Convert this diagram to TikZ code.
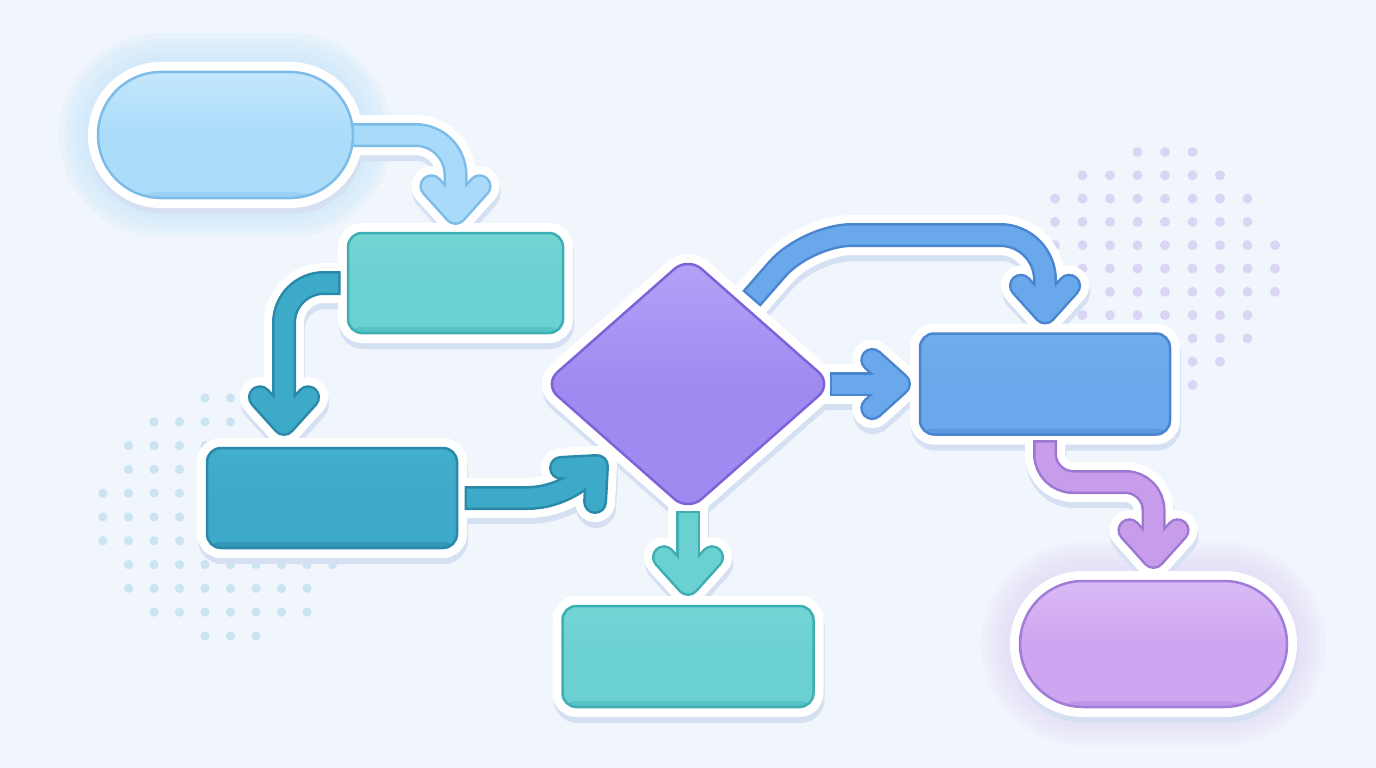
\documentclass[tikz,border=0pt]{standalone}
\usetikzlibrary{calc,shapes.geometric}
\definecolor{bg}{HTML}{F1F6FC}
\definecolor{shadowc}{HTML}{D5E1F2}
\definecolor{p1f}{HTML}{ABDCFA}
\definecolor{p1b}{HTML}{7DBBE8}
\definecolor{p1h}{HTML}{C4E7FC}
\definecolor{p1l}{HTML}{9AD0F5}
\definecolor{gl1}{HTML}{C8E6FB}
\definecolor{tlf}{HTML}{6BD0D1}
\definecolor{tlb}{HTML}{3DAEB2}
\definecolor{tlh}{HTML}{74D5D5}
\definecolor{tll}{HTML}{58C3C6}
\definecolor{tdf}{HTML}{3CAAC8}
\definecolor{tdb}{HTML}{2A88A8}
\definecolor{tdh}{HTML}{42AFCC}
\definecolor{tdl}{HTML}{3398B8}
\definecolor{df}{HTML}{A08AF2}
\definecolor{db}{HTML}{7C63D8}
\definecolor{dh}{HTML}{B4A2F6}
\definecolor{bf}{HTML}{69A8EA}
\definecolor{bb}{HTML}{4A86D0}
\definecolor{bh}{HTML}{70ADEC}
\definecolor{bl}{HTML}{5B99DF}
\definecolor{p2f}{HTML}{CEA5F0}
\definecolor{p2b}{HTML}{A17CD8}
\definecolor{p2h}{HTML}{DBBAF6}
\definecolor{p2l}{HTML}{BF96E7}
\definecolor{gl2}{HTML}{E4D8F8}
\definecolor{a1f}{HTML}{A9DAF9}
\definecolor{a1b}{HTML}{7CBCE8}
\definecolor{a7f}{HTML}{C79CEB}
\definecolor{a7b}{HTML}{9C78D2}
\definecolor{dotl}{HTML}{CAE4F2}
\definecolor{dotr}{HTML}{DAD5F4}

\pgfdeclarelayer{back}
\pgfdeclarelayer{shadow}
\pgfdeclarelayer{ring}
\pgfdeclarelayer{arrows}
\pgfsetlayers{back,shadow,ring,arrows,main}

\tikzset{
  nd/.style={inner sep=0pt, outer sep=0pt, line width=2.5pt},
  pp/.style n args={3}{path picture={
      \shade[top color=#1, bottom color=#2, middle color=#2] (path picture bounding box.north west) rectangle (path picture bounding box.south east);
      \fill[#3] ([yshift=6pt]path picture bounding box.south west) rectangle (path picture bounding box.south east);}},
  chevline/.style={line cap=round, line join=round},
}

% chevron centre line, tip centre at the origin, pointing along +x
\newcommand\chev{(-26.8,24.1) -- (0,0) -- (-26.8,-24.1)}

% #1 shaft path (ends at tip centre), #2 tip centre, #3 angle, #4 fill, #5 border, #6 gap, #7 border gap
\newcommand\flowarrow[7]{%
  \begin{pgfonlayer}{shadow}
    \begin{scope}[transform canvas={xshift=1pt,yshift=-6pt}]
      \draw[shadowc, line width=40pt, shorten <=-12pt] #1;
      \begin{scope}[shift={#2}, rotate=#3]
        \draw[shadowc, chevline, line width=40pt] \chev;
      \end{scope}
    \end{scope}
  \end{pgfonlayer}
  \begin{pgfonlayer}{arrows}
    \draw[white, line width=40pt, shorten <=-12pt] #1;
    \begin{scope}[shift={#2}, rotate=#3]
      \draw[white, chevline, line width=40pt] \chev;
    \end{scope}
    \draw[#5, line width=24pt, shorten <=#7] #1;
    \begin{scope}[shift={#2}, rotate=#3]
      \draw[#5, chevline, line width=24pt] \chev;
    \end{scope}
    \draw[#4, line width=19pt, shorten <=#6] #1;
    \begin{scope}[shift={#2}, rotate=#3]
      \draw[#4, chevline, line width=19pt] \chev;
    \end{scope}
  \end{pgfonlayer}}

\newcommand\nodeback[1]{%
  \begin{pgfonlayer}{shadow}
    \begin{scope}[transform canvas={xshift=1pt,yshift=-6pt}]
      \filldraw[shadowc, line width=20pt] #1;
    \end{scope}
  \end{pgfonlayer}
  \begin{pgfonlayer}{ring}
    \filldraw[white, line width=20pt] #1;
  \end{pgfonlayer}}

\newcommand\glowaround[2]{%
  \begin{pgfonlayer}{back}
    \foreach \w in {30,42,54,66,78} {\draw[#2, line width=\w pt, opacity=.2] #1;}
  \end{pgfonlayer}}

\begin{document}
\begin{tikzpicture}[x=1pt,y=-1pt]
\useasboundingbox (0,0) rectangle (1376,768);
\begin{pgfonlayer}{back}
  \fill[bg] (0,0) rectangle (1376,768);
  \foreach \r/\a/\b in {0/4/7,1/2/8,2/1/9,3/1/9,4/0/9,5/0/9,6/0/9,7/1/9,8/1/8,9/2/8,10/4/6}
    {\foreach \c in {\a,...,\b} {\fill[dotl] (103+25.5*\c, 398+23.8*\r) circle[radius=4.6pt];}}
  \foreach \r/\a/\b in {0/3/5,1/1/6,2/0/7,3/0/7,4/0/8,5/0/8,6/0/8,7/1/7,8/2/7,9/3/6,10/4/5}
    {\foreach \c in {\a,...,\b} {\fill[dotr] (1055+27.5*\c, 152+23.3*\r) circle[radius=5pt];}}
\end{pgfonlayer}

% nodes
\node[nd, rectangle, rounded corners=63pt, minimum width=255pt, minimum height=126pt,
      fill=p1f, draw=p1b, pp={p1h}{p1f}{p1l}] (start) at (225.5,135) {};
\node[nd, rectangle, rounded corners=14pt, minimum width=215pt, minimum height=100pt,
      fill=tlf, draw=tlb, pp={tlh}{tlf}{tll}] (t1) at (455.5,283) {};
\node[nd, rectangle, rounded corners=14pt, minimum width=250pt, minimum height=100pt,
      fill=tdf, draw=tdb, pp={tdh}{tdf}{tdl}] (t2) at (332,498) {};
\node[nd, diamond, rounded corners=18pt, minimum width=288pt, minimum height=254pt,
      fill=df, draw=db, pp={dh}{df}{df}] (dia) at (688,384) {};
\node[nd, rectangle, rounded corners=14pt, minimum width=250pt, minimum height=101pt,
      fill=bf, draw=bb, pp={bh}{bf}{bl}] (blue) at (1045,384) {};
\node[nd, rectangle, rounded corners=14pt, minimum width=251pt, minimum height=101pt,
      fill=tlf, draw=tlb, pp={tlh}{tlf}{tll}] (t3) at (688,656.5) {};
\node[nd, rectangle, rounded corners=63pt, minimum width=267pt, minimum height=126pt,
      fill=p2f, draw=p2b, pp={p2h}{p2f}{p2l}] (stop) at (1153.5,644) {};

% glows, shadows and white rings
\glowaround{[rounded corners=63pt] (start.south west) rectangle (start.north east)}{gl1}
\glowaround{[rounded corners=63pt] (stop.south west) rectangle (stop.north east)}{gl2}
\nodeback{[rounded corners=63pt] (start.south west) rectangle (start.north east)}
\nodeback{[rounded corners=14pt] (t1.south west) rectangle (t1.north east)}
\nodeback{[rounded corners=14pt] (t2.south west) rectangle (t2.north east)}
\nodeback{[rounded corners=18pt] ($(dia.north)!.5!(dia.east)$) -- (dia.east) -- (dia.south) -- (dia.west) -- (dia.north) -- cycle}
\nodeback{[rounded corners=14pt] (blue.south west) rectangle (blue.north east)}
\nodeback{[rounded corners=14pt] (t3.south west) rectangle (t3.north east)}
\nodeback{[rounded corners=63pt] (stop.south west) rectangle (stop.north east)}

% connector tip centres and free ends
\coordinate (a1tip) at ([yshift=20pt]t1.north);
\coordinate (a2tip) at ([xshift=-48pt,yshift=24pt]t2.north);
\coordinate (a3tip) at (597,466);
\coordinate (a4s) at ([xshift=58.4pt,yshift=-47.5pt]dia.north);
\coordinate (a4tip) at ([yshift=21pt]blue.north);
\coordinate (a5tip) at ([xshift=-21pt]blue.west);
\coordinate (a6tip) at ([yshift=22pt]t3.north);
\coordinate (a7tip) at ([yshift=24pt]stop.north);

% connectors
\flowarrow{[rounded corners=40pt] (start.east) -| (a1tip)}{(a1tip)}{-90}{a1f}{a1b}{0pt}{-2.5pt}
\flowarrow{[rounded corners=40pt] (t1.west) -| (a2tip)}{(a2tip)}{-90}{tdf}{tdb}{10pt}{7.5pt}
\flowarrow{(t2.east) -- ++(70,0) .. controls +(26,0) and +(-20,20) .. (a3tip)}{(a3tip)}{45}{tdf}{tdb}{10pt}{7.5pt}
\flowarrow{[rounded corners=45pt] (a4s) -- (807,235) -| (a4tip)}{(a4tip)}{-90}{bf}{bb}{10pt}{7.5pt}
\flowarrow{(dia.east) -- (a5tip)}{(a5tip)}{0}{bf}{bb}{0pt}{-2.5pt}
\flowarrow{(dia.south) -- (a6tip)}{(a6tip)}{-90}{tlf}{tlb}{2pt}{-0.5pt}
\flowarrow{[rounded corners=28pt] (blue.south) -- ++(0,47.5) -| (a7tip)}{(a7tip)}{-90}{a7f}{a7b}{8pt}{5.5pt}
\end{tikzpicture}
\end{document}
